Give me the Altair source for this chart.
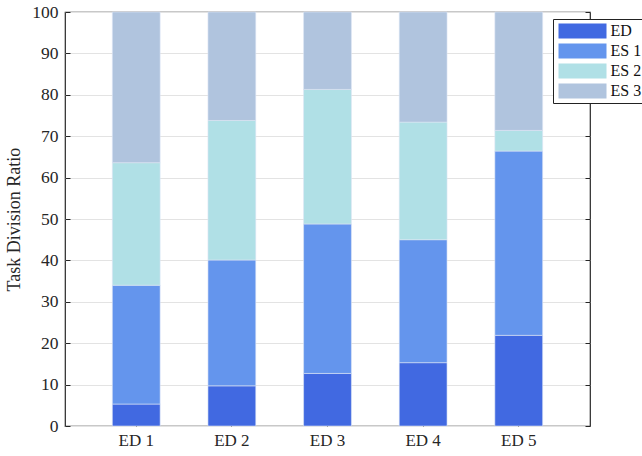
import altair as alt
import pandas as pd

# Task division ratio (%) of each end device, split between the device and three edge servers
devices = ["ED 1", "ED 2", "ED 3", "ED 4", "ED 5"]
parts = ["ED", "ES 1", "ES 2", "ES 3"]
share_ed = [5.3, 9.7, 12.7, 15.3, 21.9]
share_es1 = [28.7, 30.4, 36.1, 29.7, 44.5]
share_es2 = [29.6, 33.7, 32.5, 28.4, 5.0]
share_es3 = [36.4, 26.2, 18.7, 26.6, 28.6]
colors = ["#4169E1", "#6495ED", "#B0E0E6", "#B0C4DE"]

rows = []
for k, (part, vals) in enumerate(zip(parts, [share_ed, share_es1, share_es2, share_es3])):
    for dev, v in zip(devices, vals):
        rows.append({"device": dev, "part": part, "order": k, "ratio": v})
df = pd.DataFrame(rows)

FONT = "Liberation Serif, Times New Roman, serif"
AX = "#262626"

x_scale = alt.Scale(domain=devices, paddingInner=0.5, paddingOuter=0.495)
y_scale = alt.Scale(domain=[0, 100], nice=False)

base = alt.Chart(df)

bars = base.mark_bar(stroke="#dde6f5", strokeWidth=0.6).encode(
    x=alt.X("device:N", scale=x_scale, sort=devices,
            axis=alt.Axis(title=None, domain=False, ticks=False, labelAngle=0,
                          labelFont=FONT, labelFontSize=17, labelColor=AX,
                          labelPadding=6, grid=False)),
    y=alt.Y("sum(ratio):Q", scale=y_scale, stack="zero",
            axis=alt.Axis(title="Task Division Ratio", values=list(range(0, 101, 10)),
                          domain=False, ticks=False, labelFont=FONT, labelFontSize=17.5,
                          labelColor=AX, labelPadding=7, titleFont=FONT,
                          titleFontSize=18, titleFontWeight="normal", titleColor=AX,
                          titlePadding=8, grid=True, gridColor="#e3e3e3",
                          gridWidth=1)),
    color=alt.Color("part:N", scale=alt.Scale(domain=parts, range=colors),
                    legend=alt.Legend(title=None, orient="none", legendX=488, legendY=7,
                                      fillColor="white", strokeColor="#222222",
                                      padding=4, symbolType="M-3.2,-1H3.2V1H-3.2Z",
                                      symbolSize=225, symbolStrokeWidth=0,
                                      symbolOffset=17.5, labelOffset=20,
                                      labelFont=FONT, labelFontSize=16,
                                      labelColor="#111111", rowPadding=4)),
    order=alt.Order("order:Q", sort="ascending"),
)


def tick_layer(x_orient, y_orient):
    # invisible layer whose axes carry only inward-pointing ticks
    return base.mark_bar(opacity=0).encode(
        x=alt.X("device:N", scale=x_scale, sort=devices,
                axis=alt.Axis(orient=x_orient, title=None, labels=False, domain=False,
                              ticks=True, tickSize=5, tickColor=AX, offset=-5,
                              grid=False)),
        y=alt.Y("sum(ratio):Q", scale=y_scale, stack="zero",
                axis=alt.Axis(orient=y_orient, title=None, labels=False, domain=False,
                              ticks=True, tickSize=5, tickColor=AX, offset=-5,
                              values=list(range(0, 101, 10)), grid=False)),
        order=alt.Order("order:Q", sort="ascending"),
    )


chart = alt.layer(
    bars, tick_layer("bottom", "left"), tick_layer("top", "right")
).resolve_axis(x="independent", y="independent").properties(
    width=525, height=414,
    autosize=alt.AutoSizeParams(type="none"),
    padding={"left": 65, "top": 12, "right": 52, "bottom": 30},
).configure_view(stroke=AX, strokeWidth=1.2)

chart.save("out.html", embed_options={"renderer": "svg", "actions": False})
